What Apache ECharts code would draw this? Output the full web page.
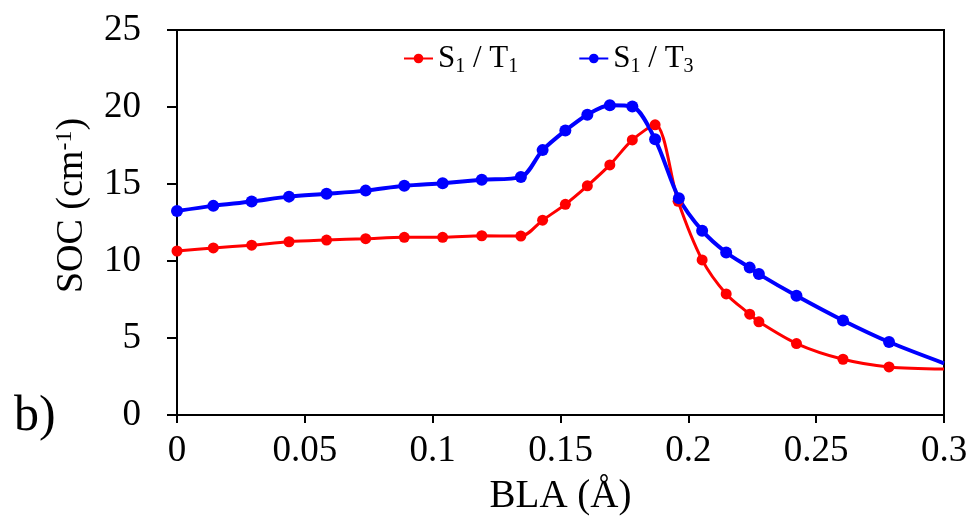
<!DOCTYPE html>
<html>
<head>
<meta charset="utf-8">
<script src="https://cdn.jsdelivr.net/npm/echarts@6/dist/echarts.min.js"></script>
<style>
  html, body { margin: 0; padding: 0; background: #fff; }
  #chart { width: 972px; height: 521px; }
</style>
</head>
<body>
<div id="chart"></div>
<script>
/* BLA (Å) -> SOC (cm-1) */
var blaT1 = [0, 0.0142, 0.0292, 0.0438, 0.0585, 0.0738, 0.0889, 0.1039, 0.1192, 0.1345,
	0.143, 0.1519, 0.1605, 0.1693, 0.1781, 0.187, 0.196, 0.2054, 0.2148, 0.224, 0.2276,
	0.2423, 0.2605, 0.2785, 0.3];
var socT1 = [10.65, 10.85, 11.03, 11.25, 11.36, 11.45, 11.54, 11.54, 11.64, 11.62,
	12.65, 13.68, 14.88, 16.24, 17.86, 18.84, 13.88, 10.07, 7.86, 6.55, 6.05,
	4.64, 3.62, 3.12, 2.98];

var blaT3 = [0, 0.0142, 0.0292, 0.0438, 0.0585, 0.0738, 0.0889, 0.1039, 0.1192, 0.1345,
	0.143, 0.1519, 0.1605, 0.1693, 0.1781, 0.187, 0.1963, 0.2054, 0.2148, 0.224, 0.2276,
	0.2423, 0.2605, 0.2785, 0.3];
var socT3 = [13.25, 13.58, 13.86, 14.18, 14.36, 14.57, 14.88, 15.05, 15.27, 15.45,
	17.2, 18.47, 19.5, 20.12, 20.03, 17.9, 14.08, 11.97, 10.55, 9.57, 9.15,
	7.74, 6.14, 4.74, 3.36];

var seriesNames = ['S1/T1', 'S1/T3'];
var legendLabels = {
	'S1/T1': '{n|S}{s|1}{n| / T}{s|1}',
	'S1/T3': '{n|S}{s|1}{n| / T}{s|3}'
};

function pairs(xs, ys) {
	var out = [];
	for (var i = 0; i < xs.length; i++) {
		// last point is the curve end, no marker there
		if (i == xs.length - 1) {
			out.push({ value: [xs[i], ys[i]], symbol: 'none' });
		} else {
			out.push([xs[i], ys[i]]);
		}
	}
	return out;
}

var font = 'Liberation Serif';

var chart = echarts.init(document.getElementById('chart'));
var option = {
	animation: false,
	backgroundColor: '#fff',
	grid: {
		left: 177, right: 28, top: 30, bottom: 106,
		show: true, borderColor: '#000', borderWidth: 2
	},
	legend: {
		left: 398, top: 38,
		itemWidth: 29, itemHeight: 12, itemGap: 60,
		data: seriesNames,
		formatter: function (name) { return legendLabels[name]; },
		textStyle: {
			rich: {
				n: { fontFamily: font, fontSize: 31, color: '#000' },
				s: { fontFamily: font, fontSize: 20, color: '#000', padding: [16, 0, 0, 0] }
			}
		}
	},
	xAxis: {
		type: 'value', min: 0, max: 0.3, interval: 0.05,
		name: 'BLA (Å)', nameLocation: 'middle', nameGap: 62,
		nameTextStyle: { fontFamily: font, fontSize: 39, color: '#000' },
		axisLine: { lineStyle: { color: '#000', width: 2 } },
		axisTick: { show: true, length: 8, lineStyle: { color: '#000', width: 2 } },
		axisLabel: { fontFamily: font, fontSize: 37, color: '#000', margin: 18 },
		splitLine: { show: false }
	},
	yAxis: {
		type: 'value', min: 0, max: 25, interval: 5,
		name: '{n|SOC (cm}{p|-1}{n|)}', nameLocation: 'middle', nameGap: 86,
		nameTextStyle: {
			padding: [0, 0, 0, 34],
			rich: {
				n: { fontFamily: font, fontSize: 38, color: '#000' },
				p: { fontFamily: font, fontSize: 24, color: '#000', padding: [0, 0, 14, 0] }
			}
		},
		axisLine: { show: true, lineStyle: { color: '#000', width: 2 } },
		axisTick: { show: true, length: 10, lineStyle: { color: '#000', width: 2 } },
		axisLabel: { fontFamily: font, fontSize: 37, color: '#000', margin: 36 },
		splitLine: { show: false }
	},
	graphic: [{
		type: 'text', left: 14, top: 392,
		style: { text: 'b)', fontFamily: font, fontSize: 50, fill: '#000' }
	}],
	series: [
		{
			name: 'S1/T1', type: 'line', smooth: 0.3,
			data: pairs(blaT1, socT1),
			symbol: 'circle', symbolSize: 11,
			itemStyle: { color: '#ff0000' },
			lineStyle: { color: '#ff0000', width: 3 }
		},
		{
			name: 'S1/T3', type: 'line', smooth: 0.3,
			data: pairs(blaT3, socT3),
			symbol: 'circle', symbolSize: 12,
			itemStyle: { color: '#0000ff' },
			lineStyle: { color: '#0000ff', width: 4 }
		}
	]
};
chart.setOption(option);
</script>
</body>
</html>
